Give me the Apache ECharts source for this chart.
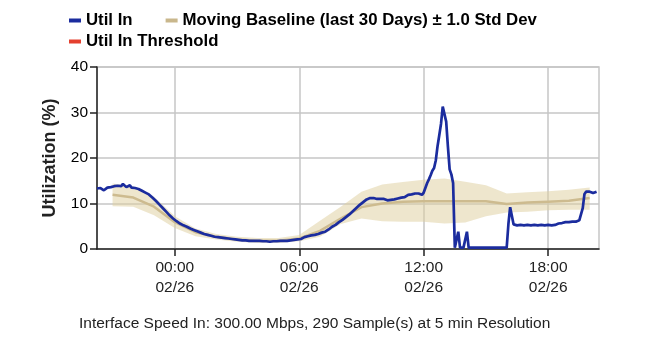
<!DOCTYPE html>
<html>
<head>
<meta charset="utf-8">
<script src="https://cdn.jsdelivr.net/npm/echarts@6/dist/echarts.min.js"></script>
<style>
  html, body { margin: 0; padding: 0; background: #fff; }
  #chart { width: 664px; height: 347px; }
</style>
</head>
<body>
<div id="chart"></div>
<script>
// Sampling: 290 samples at 5 min resolution, first sample 02/25 20:15.
// Times are expressed in hours relative to 02/26 00:00.
const sampleStartHour = -3.75;
const sampleStepHours = 5 / 60;

// Util In (%) per 5-minute sample
const utilIn = [
  13.3, 13.1, 13.4, 13.0, 12.9, 13.2, 13.5, 13.4, 13.6, 13.5, 13.8, 13.7,
  13.9, 14.1, 13.8, 14.3, 14.5, 13.6, 13.7, 14.0, 13.5, 13.6, 13.4, 13.3,
  13.2, 13.0, 12.8, 12.6, 12.4, 12.3, 12.0, 11.7, 11.3, 11.0, 10.6, 10.2,
  9.8, 9.4, 9.0, 8.6, 8.2, 7.8, 7.4, 7.0, 6.7, 6.4, 6.1, 5.8,
  5.6, 5.4, 5.2, 5.0, 4.9, 4.7, 4.5, 4.3, 4.2, 4.0, 3.9, 3.8,
  3.6, 3.5, 3.3, 3.2, 3.1, 3.0, 2.9, 2.8, 2.7, 2.7, 2.6, 2.5,
  2.5, 2.4, 2.4, 2.3, 2.3, 2.2, 2.2, 2.1, 2.1, 2.0, 2.0, 2.0,
  1.9, 1.9, 1.9, 1.9, 1.8, 1.8, 1.8, 1.8, 1.8, 1.7, 1.8, 1.7,
  1.7, 1.7, 1.7, 1.7, 1.6, 1.7, 1.7, 1.7, 1.7, 1.7, 1.8, 1.7,
  1.8, 1.8, 1.8, 1.9, 1.9, 1.9, 2.0, 2.0, 2.1, 2.1, 2.2, 2.3,
  2.6, 2.7, 2.8, 2.9, 3.0, 3.1, 3.1, 3.2, 3.3, 3.5, 3.6, 3.7,
  3.8, 4.0, 4.3, 4.6, 4.9, 5.1, 5.3, 5.6, 5.9, 6.1, 6.4, 6.7,
  7.0, 7.3, 7.6, 7.9, 8.3, 8.6, 9.0, 9.3, 9.7, 10.0, 10.3, 10.6,
  10.9, 11.0, 11.2, 11.1, 11.2, 11.1, 11.0, 11.1, 11.0, 10.9, 11.0, 10.9,
  10.7, 10.6, 10.8, 10.6, 10.9, 11.0, 11.1, 11.2, 11.3, 11.2, 11.4, 11.6,
  11.9, 11.8, 12.0, 12.1, 12.2, 12.4, 12.2, 12.5, 11.9, 12.4, 12.8, 14.5,
  15.3, 16.2, 17.2, 17.8, 19.5, 22.6, 25.0, 27.5, 31.3, 31.5, 28.0, 22.5,
  17.5, 16.4, 14.5, 0.3, 0.3, 3.8, 0.3, 0.3, 0.3, 0.3, 3.8, 0.3,
  0.3, 0.3, 0.3, 0.3, 0.3, 0.3, 0.3, 0.3, 0.3, 0.3, 0.3, 0.3,
  0.3, 0.3, 0.3, 0.3, 0.3, 0.3, 0.3, 0.3, 0.3, 0.3, 5.5, 9.2,
  9.0, 5.4, 5.0, 5.2, 5.0, 5.3, 5.0, 5.2, 5.0, 5.3, 5.0, 5.2,
  5.0, 5.3, 5.1, 5.2, 5.0, 5.3, 5.0, 5.2, 5.1, 5.3, 5.0, 5.2,
  5.0, 5.3, 5.2, 5.6, 5.5, 5.7, 5.6, 5.9, 6.1, 5.9, 6.1, 6.0,
  6.2, 6.0, 6.1, 6.3, 6.2, 9.0, 12.1, 12.6, 12.7, 12.6, 12.3, 12.3,
  12.2, 12.6
];

// Moving baseline (hourly, 02/25 21:00 .. 02/26 20:00)
const baselineHours = [-3, -2, -1, 0, 1, 2, 3, 4, 5, 6, 7, 8, 9, 10, 11, 12, 13, 14, 15, 16, 17, 18, 19, 20];
const baselineMean  = [11.9, 11.3, 9.3, 5.9, 3.7, 2.7, 2.1, 1.8, 1.8, 2.3, 4.0, 6.7, 9.2, 10.0, 10.4, 10.5, 10.5, 10.5, 10.5, 9.9, 10.2, 10.4, 10.6, 11.2];
const baselineUpper = [14.4, 13.8, 11.5, 7.2, 4.5, 3.3, 2.7, 2.4, 2.4, 3.1, 6.2, 9.3, 12.6, 14.2, 14.7, 15.2, 15.5, 14.8, 14.0, 12.2, 12.5, 12.7, 13.0, 13.5];
const baselineLower = [9.4, 9.3, 7.4, 4.6, 2.8, 2.1, 1.6, 1.3, 1.3, 1.7, 2.7, 5.5, 6.7, 6.1, 6.0, 6.0, 5.6, 5.8, 7.2, 8.0, 8.2, 8.5, 8.6, 8.6];

// Axis ticks
const xTickHours  = [0, 6, 12, 18];
const xTickLabels = ['00:00\n02/26', '06:00\n02/26', '12:00\n02/26', '18:00\n02/26'];
const yTicks = [0, 10, 20, 30, 40];

const footerText = 'Interface Speed In: 300.00 Mbps, 290 Sample(s) at 5 min Resolution';

const FONT = "'Liberation Sans', Arial, sans-serif";
const NAME_UTIL = 'Util In';
const NAME_BASE = 'Moving Baseline (last 30 Days) \u00b1 1.0 Std Dev';
const NAME_THRESH = 'Util In Threshold';

const utilData = utilIn.map((v, i) => [sampleStartHour + i * sampleStepHours, v]);
const meanData = baselineHours.map((h, i) => [h, baselineMean[i]]);
const bandData = baselineHours.map((h, i) => [h, baselineLower[i], baselineUpper[i]]);

// ± std dev envelope drawn as one polygon: upper edge forward, lower edge back
function renderBand(params, api) {
  if (params.dataIndex !== 0) return null;
  const upper = bandData.map(d => api.coord([d[0], d[2]]));
  const lower = bandData.map(d => api.coord([d[0], d[1]])).reverse();
  return {
    type: 'polygon',
    shape: { points: upper.concat(lower) },
    style: { fill: 'rgba(222,206,156,0.5)' },
    silent: true
  };
}

const chart = echarts.init(document.getElementById('chart'), null, { renderer: 'canvas' });

const legendText = { fontFamily: FONT, fontSize: 16.8, fontWeight: 'bold', color: '#000' };

chart.setOption({
  animation: false,
  backgroundColor: '#ffffff',
  textStyle: { fontFamily: FONT },
  legend: [
    {
      data: [NAME_UTIL, NAME_BASE],
      left: 64, top: 7,
      itemWidth: 12, itemHeight: 4, itemGap: 33,
      icon: 'rect',
      textStyle: legendText,
      selectedMode: false
    },
    {
      data: [NAME_THRESH],
      left: 64, top: 28,
      itemWidth: 12, itemHeight: 4,
      icon: 'rect',
      textStyle: legendText,
      selectedMode: false
    }
  ],
  grid: {
    left: 97, right: 65, top: 67, bottom: 98,
    show: true, borderColor: '#c6c6c6', borderWidth: 1.5, backgroundColor: 'transparent'
  },
  xAxis: {
    type: 'value',
    min: sampleStartHour,
    max: 20.45,
    axisLine: { show: true, onZero: false, lineStyle: { color: '#222', width: 1.5 } },
    axisTick: { show: true, length: 7, customValues: xTickHours, lineStyle: { color: '#222', width: 1.5 } },
    axisLabel: {
      customValues: xTickHours,
      formatter: (v) => xTickLabels[xTickHours.indexOf(v)] || '',
      fontFamily: FONT, fontSize: 15.5, color: '#222', lineHeight: 20, margin: 9
    },
    splitLine: { show: true, lineStyle: { color: '#c6c6c6', width: 1.5 } }
  },
  yAxis: {
    type: 'value',
    min: yTicks[0], max: yTicks[yTicks.length - 1], interval: 10,
    name: 'Utilization (%)',
    nameLocation: 'middle', nameGap: 38,
    nameTextStyle: { fontFamily: FONT, fontSize: 18, fontWeight: 'bold', color: '#222' },
    axisLine: { show: true, onZero: false, lineStyle: { color: '#222', width: 1.5 } },
    axisTick: { show: true, length: 7, lineStyle: { color: '#222', width: 1.5 } },
    axisLabel: { fontFamily: FONT, fontSize: 15.5, color: '#000', margin: 9 },
    splitLine: { show: true, lineStyle: { color: '#c6c6c6', width: 1.5 } }
  },
  series: [
    {
      name: 'band', type: 'custom', data: bandData,
      encode: { x: 0, y: [1, 2] },
      renderItem: renderBand, silent: true, z: 1
    },
    {
      name: NAME_BASE, type: 'line', data: meanData, symbol: 'none',
      itemStyle: { color: '#c9b78c' },
      lineStyle: { color: '#cdbb8f', width: 2.5 }, z: 2
    },
    {
      name: NAME_UTIL, type: 'line', data: utilData, symbol: 'none',
      itemStyle: { color: '#1b2c9e' },
      lineStyle: { color: '#1b2c9e', width: 2.7 }, z: 3
    },
    {
      name: NAME_THRESH, type: 'line', data: [], symbol: 'none',
      itemStyle: { color: '#e4402f' },
      lineStyle: { color: '#e4402f', width: 2.5 }
    }
  ],
  graphic: [
    {
      type: 'text', left: 79, top: 316,
      style: { text: footerText, fontFamily: FONT, fontSize: 15.5, fill: '#222' }
    }
  ]
});
</script>
</body>
</html>
